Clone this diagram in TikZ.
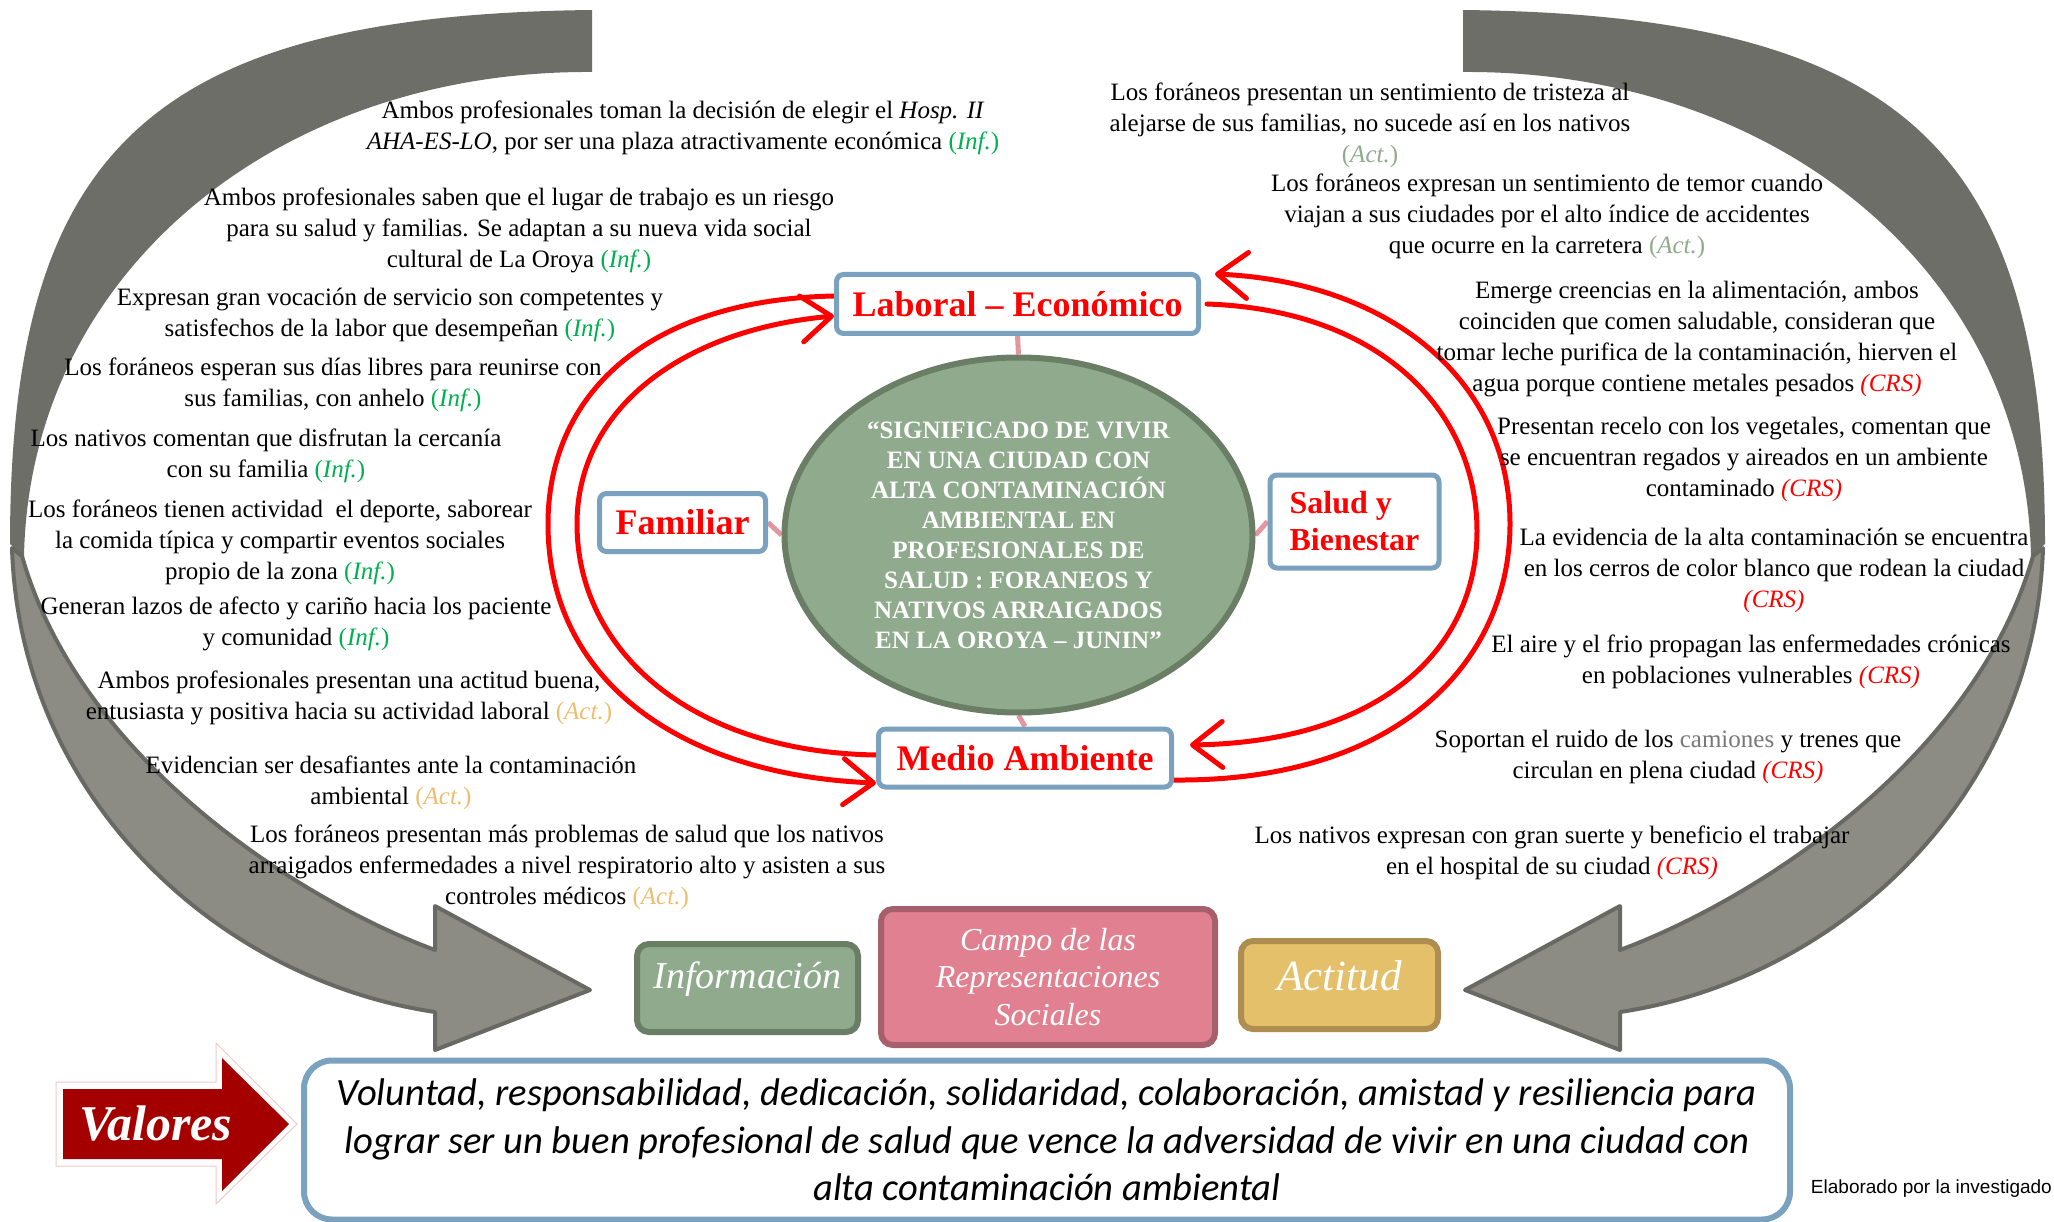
\documentclass[tikz,border=0pt]{standalone}
\usepackage{fontspec}
\setmainfont{Liberation Serif}[ItalicFont=* Italic, BoldFont=* Bold, BoldItalicFont=* Bold Italic]
\newfontfamily\carlito{Carlito}
\newfontfamily\arialf{Liberation Sans}
\usetikzlibrary{arrows.meta,shapes.geometric}

\definecolor{infgreen}{RGB}{0,176,80}
\definecolor{actgold}{RGB}{238,190,110}
\definecolor{actsage}{RGB}{143,170,140}
\definecolor{crsred}{RGB}{255,0,0}
\definecolor{boxblue}{RGB}{122,162,190}
\definecolor{sagefill}{RGB}{143,170,140}
\definecolor{sageline}{RGB}{106,126,102}
\definecolor{rosefill}{RGB}{224,128,144}
\definecolor{roseline}{RGB}{166,96,108}
\definecolor{goldfill}{RGB}{229,192,106}
\definecolor{goldline}{RGB}{174,142,80}
\definecolor{bandDark}{RGB}{110,110,104}
\definecolor{bandLight}{RGB}{140,140,132}
\definecolor{bandEdge}{RGB}{104,105,99}
\definecolor{stubpink}{RGB}{226,150,160}
\definecolor{valred}{RGB}{165,0,0}
\definecolor{valglow}{RGB}{240,200,200}
\definecolor{loopred}{RGB}{255,0,0}
\definecolor{truckgray}{RGB}{120,120,120}

% source tags after each statement
\newcommand{\tagInf}{{\color{infgreen}(\textit{Inf.})}}
\newcommand{\tagActL}{{\color{actgold}(\textit{Act.})}}
\newcommand{\tagActR}{{\color{actsage}(\textit{Act.})}}
\newcommand{\tagCRS}{{\color{crsred}\textit{(CRS)}}}

% big curved arrow running down the left side (mirrored for the right side)
\newcommand{\grayband}{%
  \fill[bandDark] (592,10) .. controls (150,15) and (10,150) .. (10,544)
     -- (24,556) .. controls (30,270) and (280,70) .. (592,72) -- cycle;
  \filldraw[fill=bandLight, draw=bandEdge, line width=4pt, line join=round]
     (12,548) .. controls (20,800) and (220,980) .. (435,1012)
     -- (435,1050) -- (590,990) -- (435,906) -- (435,950)
     .. controls (300,900) and (80,760) .. (22,556) -- cycle;
}

\pgfdeclarelayer{back}
\pgfdeclarelayer{bg}
\pgfsetlayers{back,bg,main}

\begin{document}
\begin{tikzpicture}[x=1pt,y=-1pt,
  txt/.style={font=\fontsize{25}{31}\selectfont, align=center, inner sep=0pt},
  core/.style={ellipse, fill=sagefill, draw=sageline, line width=6pt,
    minimum width=468pt, minimum height=355pt, inner sep=0pt, text=white,
    font=\bfseries\fontsize{25}{30}\selectfont, align=center},
  theme/.style={draw=boxblue, line width=5pt, fill=white, rounded corners=7pt,
    text=red, font=\bfseries\fontsize{36}{37}\selectfont, inner sep=0pt},
  rep/.style={rounded corners=12pt, line width=6pt, text=white, inner sep=0pt},
  stub/.style={draw=stubpink, line width=5pt},
  loopline/.style={draw=loopred, line width=5pt, line cap=round,
    -{Straight Barb[length=30pt,width=46pt,line width=5pt,round]}}
]
\begin{pgfonlayer}{back}
  \fill[white] (0,0) rectangle (2054,1222);
\end{pgfonlayer}
\useasboundingbox (0,0) rectangle (2054,1222);

% central idea and its four dimensions
\node[core] (core) at (1018.5,535) {“SIGNIFICADO DE VIVIR\\EN UNA CIUDAD CON\\ALTA CONTAMINACIÓN\\AMBIENTAL EN\\PROFESIONALES DE\\SALUD : FORANEOS Y\\NATIVOS ARRAIGADOS\\EN LA OROYA – JUNIN”};
\node[theme, minimum width=362pt, minimum height=59pt] (lab) at (1017.5,304) {Laboral – Económico};
\node[theme, minimum width=166pt, minimum height=58pt] (fam) at (682.5,522.5) {Familiar};
\node[theme, minimum width=169pt, minimum height=93pt, align=left,
      font=\bfseries\fontsize{32}{37}\selectfont] (sal) at (1354.5,521.5) {Salud y\\Bienestar};
\node[theme, minimum width=293pt, minimum height=58pt] (med) at (1025,758) {Medio Ambiente};

% statements, left side
\node[txt] (l1) at (683,127.5) {Ambos profesionales toman la decisión de elegir el \textit{Hosp. II}\\\textit{AHA-ES-LO}, por ser una plaza atractivamente económica \tagInf};
\node[txt] (l2) at (519,230.5) {Ambos profesionales saben que el lugar de trabajo es un riesgo\\para su salud y familias. Se adaptan a su nueva vida social\\cultural de La Oroya \tagInf};
\node[txt] (l3) at (390,315) {Expresan gran vocación de servicio son competentes y\\satisfechos de la labor que desempeñan \tagInf};
\node[txt] (l4) at (333,385) {Los foráneos esperan sus días libres para reunirse con\\sus familias, con anhelo \tagInf};
\node[txt] (l5) at (266,456) {Los nativos comentan que disfrutan la cercanía\\con su familia \tagInf};
\node[txt] (l6) at (280,542) {Los foráneos tienen actividad\ \ el deporte, saborear\\la comida típica y compartir eventos sociales\\propio de la zona \tagInf};
\node[txt] (l7) at (296,623.5) {Generan lazos de afecto y cariño hacia los paciente\\y comunidad \tagInf};
\node[txt] (l8) at (349,698) {Ambos profesionales presentan una actitud buena,\\entusiasta y positiva hacia su actividad laboral \tagActL};
\node[txt] (l9) at (391,783) {Evidencian ser desafiantes ante la contaminación\\ambiental \tagActL};
\node[txt] (l10) at (567,867) {Los foráneos presentan más problemas de salud que los nativos\\arraigados enfermedades a nivel respiratorio alto y asisten a sus\\controles médicos \tagActL};

% statements, right side
\node[txt] (r1) at (1370,125) {Los foráneos presentan un sentimiento de tristeza al\\alejarse de sus familias, no sucede así en los nativos\\\tagActR};
\node[txt] (r2) at (1547,216) {Los foráneos expresan un sentimiento de temor cuando\\viajan a sus ciudades por el alto índice de accidentes\\que ocurre en la carretera \tagActR};
\node[txt] (r3) at (1697,339) {Emerge creencias en la alimentación, ambos\\coinciden que comen saludable, consideran que\\tomar leche purifica de la contaminación, hierven el\\agua porque contiene metales pesados \tagCRS};
\node[txt] (r4) at (1744,459) {Presentan recelo con los vegetales, comentan que\\se encuentran regados y aireados en un ambiente\\contaminado \tagCRS};
\node[txt] (r5) at (1774,570) {La evidencia de la alta contaminación se encuentra\\en los cerros de color blanco que rodean la ciudad\\\tagCRS};
\node[txt] (r6) at (1751,661.5) {El aire y el frio propagan las enfermedades crónicas\\en poblaciones vulnerables \tagCRS};
\node[txt] (r7) at (1668,757) {Soportan el ruido de los {\color{truckgray}camiones} y trenes que\\circulan en plena ciudad \tagCRS};
\node[txt] (r8) at (1552,853) {Los nativos expresan con gran suerte y beneficio el trabajar\\en el hospital de su ciudad \tagCRS};

% components of the social representation
\node[rep, fill=sagefill, draw=sageline, minimum width=221pt, minimum height=88pt,
      font=\itshape\fontsize{38}{38}\selectfont, text height=30pt, text depth=30pt] (info) at (747.5,988) {Información};
\node[rep, fill=rosefill, draw=roseline, minimum width=334pt, minimum height=136pt, align=center,
      font=\itshape\fontsize{32}{37.5}\selectfont] (campo) at (1048,977) {Campo de las\\Representaciones\\Sociales};
\node[rep, fill=goldfill, draw=goldline, minimum width=197pt, minimum height=88pt,
      font=\itshape\fontsize{43}{43}\selectfont, text height=35pt, text depth=25pt] (act) at (1339.5,985) {Actitud};

% values
\draw[valglow, line width=1pt] (56,1082) -- (216,1082) -- (216,1043) -- (297,1124) -- (216,1204) -- (216,1166) -- (56,1166) -- cycle;
\fill[valred] (63,1089) -- (222,1089) -- (222,1058) -- (289,1124) -- (222,1191) -- (222,1159) -- (63,1159) -- cycle;
\node[text=white, inner sep=0pt, font=\bfseries\itshape\fontsize{50}{50}\selectfont] (valtxt) at (156,1124) {Valores};
\node[draw=boxblue, line width=6pt, rounded corners=28pt, fill=white, minimum width=1486pt, minimum height=159pt,
      align=center, inner sep=0pt, font=\carlito\itshape\fontsize{38.6}{47.5}\selectfont] (vals) at (1047,1140)
  {Voluntad, responsabilidad, dedicación, solidaridad, colaboración, amistad y resiliencia para\\lograr ser un buen profesional de salud que vence la adversidad de vivir en una ciudad con\\alta contaminación ambiental};

\node[anchor=east, inner sep=0pt, font=\arialf\fontsize{19}{19}\selectfont] (credit) at (2052,1189) {Elaborado por la investigado};

\begin{pgfonlayer}{bg}
  % large curved arrows feeding information and attitude
  \grayband
  \begin{scope}[shift={(2055,0)}, xscale=-1]
    \grayband
  \end{scope}
  % links between the centre and the dimensions
  \draw[stub] (core.north) -- (lab.south);
  \draw[stub] (core.south) -- (med.north);
  \draw[stub] (core.west) -- (fam.east);
  \draw[stub] (core.east) -- (sal.west);
  % cycle between work and environment
  \draw[loopline] ([yshift=8pt]lab.west) .. controls (640,300) and (548,400) .. (548,524)
        .. controls (548,680) and (680,775) .. ([yshift=-25pt]med.west);
  \draw[loopline] ([yshift=3pt]med.west) .. controls (690,752) and (577,650) .. (577,524)
        .. controls (577,410) and (680,330) .. ([yshift=-12pt]lab.west);
  \draw[loopline] ([yshift=-22pt]med.east) .. controls (1400,782) and (1510,660) .. (1510,524)
        .. controls (1510,380) and (1390,282) .. ([xshift=14pt,yshift=30pt]lab.east);
  \draw[loopline] ([xshift=6pt]lab.east) .. controls (1380,310) and (1477,410) .. (1477,531)
        .. controls (1477,650) and (1380,742) .. ([xshift=16pt,yshift=13pt]med.east);
\end{pgfonlayer}
\end{tikzpicture}
\end{document}
